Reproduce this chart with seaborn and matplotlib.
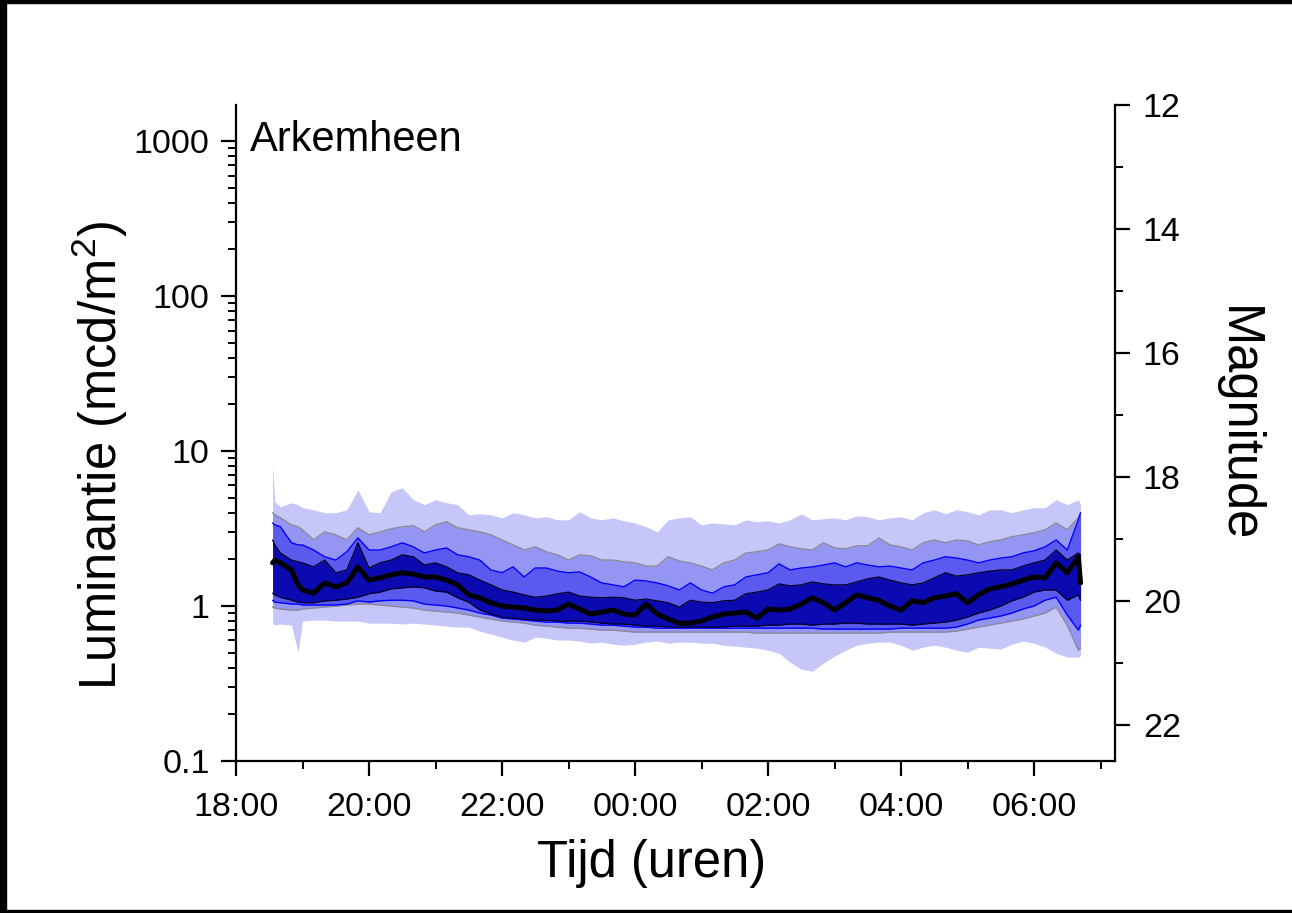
import numpy as np
import pandas as pd
import matplotlib
matplotlib.use("Agg")
import matplotlib.pyplot as plt
import seaborn as sns
from matplotlib.patches import Rectangle

# ---------------- data ----------------
times = ["18:33", "18:35", "18:40", "18:50", "18:56", "19:00", "19:10", "19:20", "19:30", "19:40",
         "19:50", "20:00", "20:10", "20:20", "20:30", "20:40", "20:50", "21:00", "21:10", "21:20",
         "21:30", "21:40", "21:50", "22:00", "22:10", "22:20", "22:30", "22:40", "22:50", "23:00",
         "23:10", "23:20", "23:30", "23:40", "23:50", "00:00", "00:10", "00:20", "00:30", "00:40",
         "00:50", "01:00", "01:10", "01:20", "01:30", "01:40", "01:50", "02:00", "02:10", "02:20",
         "02:30", "02:40", "02:50", "03:00", "03:10", "03:20", "03:30", "03:40", "03:50", "04:00",
         "04:10", "04:20", "04:30", "04:40", "04:50", "05:00", "05:10", "05:20", "05:30", "05:40",
         "05:50", "06:00", "06:10", "06:20", "06:30", "06:40", "06:42"]

outer_hi = [8.18, 4.71, 4.37, 4.64, 4.51, 4.31, 4.18, 4.00, 4.00, 4.18,
            5.63, 4.06, 4.00, 5.47, 5.80, 4.86, 4.51, 4.86, 4.64, 4.51,
            3.88, 3.94, 3.88, 3.71, 4.00, 3.88, 3.71, 3.77, 3.60, 3.60,
            4.06, 3.71, 3.60, 3.71, 3.55, 3.44, 3.25, 3.01, 3.60, 3.71,
            3.77, 3.34, 3.44, 3.39, 3.34, 3.60, 3.50, 3.55, 3.44, 3.60,
            3.94, 3.60, 3.66, 3.71, 3.60, 3.82, 3.77, 3.60, 3.71, 3.77,
            3.60, 4.00, 4.18, 3.94, 4.18, 4.06, 3.88, 4.18, 4.18, 4.00,
            4.18, 4.31, 4.31, 4.86, 4.51, 4.86, 4.51]

gray_hi = [4.00, 3.88, 3.71, 3.34, 3.25, 3.10, 2.67, 3.01, 2.88, 2.67,
           3.20, 2.88, 3.01, 3.15, 3.25, 3.30, 3.01, 3.34, 3.50, 3.20,
           3.10, 3.01, 2.88, 2.67, 2.48, 2.30, 2.41, 2.24, 2.14, 1.98,
           2.14, 2.11, 1.98, 1.98, 1.93, 1.90, 1.81, 1.81, 2.08, 1.95,
           1.90, 1.81, 1.71, 1.90, 1.98, 2.20, 2.24, 2.30, 2.52, 2.41,
           2.34, 2.30, 2.56, 2.37, 2.34, 2.45, 2.45, 2.75, 2.48, 2.41,
           2.30, 2.56, 2.67, 2.56, 2.67, 2.63, 2.48, 2.60, 2.67, 2.80,
           2.88, 2.97, 3.10, 3.44, 3.10, 3.71, 3.88]

blue_hi = [3.44, 3.34, 3.25, 2.56, 2.48, 2.48, 2.30, 2.08, 1.98, 2.24,
           2.75, 2.30, 2.30, 2.41, 2.56, 2.41, 2.20, 2.30, 2.37, 2.14,
           2.08, 1.98, 1.71, 1.64, 1.79, 1.54, 1.76, 1.76, 1.68, 1.64,
           1.66, 1.54, 1.41, 1.37, 1.33, 1.47, 1.45, 1.41, 1.35, 1.27,
           1.41, 1.27, 1.21, 1.33, 1.37, 1.54, 1.59, 1.64, 1.87, 1.71,
           1.76, 1.79, 1.84, 1.90, 1.79, 1.90, 1.84, 1.79, 1.81, 1.76,
           1.71, 1.90, 1.98, 2.08, 2.04, 1.98, 1.90, 1.98, 2.04, 2.08,
           2.20, 2.27, 2.41, 2.67, 2.30, 3.60, 4.00]

dark_hi = [2.67, 2.48, 2.20, 1.98, 1.93, 1.90, 1.79, 1.98, 1.64, 1.71,
           2.56, 1.76, 1.90, 1.98, 2.14, 2.08, 1.84, 1.90, 1.79, 1.64,
           1.59, 1.47, 1.37, 1.27, 1.23, 1.18, 1.14, 1.16, 1.20, 1.23,
           1.16, 1.14, 1.13, 1.14, 1.13, 1.09, 1.11, 1.08, 1.05, 0.985,
           1.09, 1.06, 1.05, 1.08, 1.09, 1.20, 1.23, 1.27, 1.39, 1.35,
           1.37, 1.43, 1.39, 1.37, 1.37, 1.43, 1.50, 1.54, 1.47, 1.41,
           1.37, 1.41, 1.52, 1.64, 1.56, 1.59, 1.64, 1.68, 1.71, 1.71,
           1.81, 1.90, 1.98, 2.30, 1.98, 2.20, 2.14]

median = [1.90, 1.98, 1.90, 1.71, 1.37, 1.27, 1.21, 1.41, 1.33, 1.41,
          1.79, 1.47, 1.52, 1.59, 1.64, 1.61, 1.54, 1.54, 1.47, 1.37,
          1.18, 1.13, 1.05, 1.00, 0.985, 0.971, 0.942, 0.928, 0.942, 1.03,
          0.956, 0.888, 0.915, 0.942, 0.888, 0.875, 1.03, 0.888, 0.824, 0.776,
          0.776, 0.800, 0.849, 0.888, 0.901, 0.915, 0.836, 0.956, 0.942, 0.956,
          1.03, 1.13, 1.05, 0.942, 1.05, 1.18, 1.13, 1.09, 1.00, 0.942,
          1.08, 1.05, 1.13, 1.16, 1.20, 1.05, 1.18, 1.29, 1.33, 1.39,
          1.47, 1.54, 1.52, 1.90, 1.64, 2.08, 1.41]

dark_lo = [1.21, 1.18, 1.14, 1.09, 1.06, 1.05, 1.05, 1.08, 1.09, 1.11,
           1.14, 1.20, 1.23, 1.29, 1.31, 1.33, 1.31, 1.25, 1.23, 1.13,
           1.06, 0.942, 0.888, 0.849, 0.836, 0.824, 0.812, 0.812, 0.800, 0.800,
           0.800, 0.788, 0.776, 0.765, 0.765, 0.753, 0.742, 0.742, 0.731, 0.731,
           0.731, 0.731, 0.731, 0.731, 0.742, 0.742, 0.742, 0.753, 0.753, 0.765,
           0.765, 0.753, 0.765, 0.765, 0.776, 0.776, 0.765, 0.765, 0.765, 0.765,
           0.753, 0.765, 0.776, 0.788, 0.812, 0.849, 0.901, 0.942, 1.00, 1.08,
           1.14, 1.23, 1.27, 1.27, 1.09, 1.18, 1.09]

blue_lo = [1.09, 1.06, 1.05, 1.03, 1.03, 1.015, 1.015, 1.015, 1.015, 1.03,
           1.08, 1.06, 1.08, 1.09, 1.09, 1.08, 1.03, 1.015, 1.00, 0.971,
           0.942, 0.901, 0.875, 0.836, 0.824, 0.812, 0.800, 0.788, 0.788, 0.776,
           0.776, 0.765, 0.753, 0.753, 0.742, 0.731, 0.731, 0.720, 0.720, 0.720,
           0.720, 0.720, 0.720, 0.720, 0.720, 0.720, 0.720, 0.720, 0.720, 0.720,
           0.720, 0.720, 0.710, 0.710, 0.710, 0.710, 0.710, 0.710, 0.710, 0.720,
           0.720, 0.720, 0.720, 0.720, 0.731, 0.765, 0.812, 0.836, 0.862, 0.901,
           0.956, 1.00, 1.09, 1.14, 0.875, 0.699, 0.753]

gray_lo = [0.985, 0.971, 0.956, 0.942, 0.942, 0.956, 0.971, 0.985, 1.00, 1.015,
           1.03, 1.03, 1.015, 1.00, 0.985, 0.971, 0.942, 0.928, 0.915, 0.901,
           0.875, 0.849, 0.824, 0.800, 0.788, 0.776, 0.753, 0.742, 0.731, 0.720,
           0.720, 0.710, 0.699, 0.699, 0.689, 0.679, 0.679, 0.679, 0.679, 0.679,
           0.679, 0.679, 0.679, 0.679, 0.679, 0.679, 0.669, 0.669, 0.669, 0.669,
           0.669, 0.669, 0.669, 0.669, 0.669, 0.669, 0.669, 0.669, 0.679, 0.679,
           0.679, 0.679, 0.679, 0.679, 0.689, 0.710, 0.731, 0.753, 0.776, 0.800,
           0.824, 0.862, 0.901, 0.985, 0.753, 0.519, 0.535]

outer_lo = [0.776, 0.753, 0.765, 0.753, 0.504, 0.800, 0.812, 0.812, 0.800, 0.800,
            0.800, 0.776, 0.776, 0.776, 0.765, 0.776, 0.765, 0.753, 0.742, 0.731,
            0.731, 0.689, 0.659, 0.630, 0.603, 0.585, 0.630, 0.621, 0.603, 0.603,
            0.594, 0.576, 0.585, 0.568, 0.559, 0.568, 0.585, 0.594, 0.576, 0.585,
            0.585, 0.576, 0.576, 0.559, 0.551, 0.543, 0.535, 0.519, 0.496, 0.434,
            0.391, 0.380, 0.428, 0.475, 0.519, 0.559, 0.576, 0.585, 0.585, 0.559,
            0.519, 0.543, 0.559, 0.543, 0.519, 0.504, 0.543, 0.535, 0.527, 0.568,
            0.594, 0.576, 0.543, 0.496, 0.468, 0.468, 0.482]

x_tick_labels = ["18:00", "20:00", "22:00", "00:00", "02:00", "04:00", "06:00"]
y_tick_values = [0.1, 1, 10, 100, 1000]
y_tick_labels = ["0.1", "1", "10", "100", "1000"]
mag_tick_values = [12, 14, 16, 18, 20, 22]
mag_minor_values = [13, 15, 17, 19, 21]
site_name = "Arkemheen"


def hours_after_18(s):
    h, m = map(int, s.split(":"))
    return (h - 18) % 24 + m / 60.0


def lum_to_mag(L):
    # L in mcd/m^2  ->  magnitude / arcsec^2
    return -2.5 * np.log10(np.asarray(L, dtype=float) / 1.08e8)


def mag_to_lum(m):
    return 1.08e8 * 10 ** (-0.4 * np.asarray(m, dtype=float))


df = pd.DataFrame({
    "t": [hours_after_18(s) for s in times],
    "outer_hi": outer_hi, "outer_lo": outer_lo,
    "gray_hi": gray_hi, "gray_lo": gray_lo,
    "blue_hi": blue_hi, "blue_lo": blue_lo,
    "dark_hi": dark_hi, "dark_lo": dark_lo,
    "median": median,
})

# ---------------- style ----------------
sns.set_theme(style="ticks")
plt.rcParams["font.family"] = ["Liberation Sans", "DejaVu Sans"]
plt.rcParams["mathtext.fontset"] = "custom"
plt.rcParams["mathtext.rm"] = "Liberation Sans"
plt.rcParams["mathtext.it"] = "Liberation Sans:italic"
plt.rcParams["axes.linewidth"] = 1.6

W, H = 1292, 913
fig = plt.figure(figsize=(W / 100, H / 100), dpi=100, facecolor="white")
left, right, bottom, top = 236, 1115, 761, 105
ax = fig.add_axes([left / W, 1 - bottom / H, (right - left) / W, (bottom - top) / H])

c_outer = "#c6c6f8"
c_gray = "#9595f3"
c_blue = "#5a5aef"
c_dark = "#0a0ab0"

ax.fill_between(df["t"], df["outer_lo"], df["outer_hi"], color=c_outer, lw=0)
ax.fill_between(df["t"], df["gray_lo"], df["gray_hi"], color=c_gray, lw=0)
ax.fill_between(df["t"], df["blue_lo"], df["blue_hi"], color=c_blue, lw=0)
ax.fill_between(df["t"], df["dark_lo"], df["dark_hi"], color=c_dark, lw=0)

for col, colr, lw in [("gray_hi", "#8a8a9a", 1.0), ("gray_lo", "#8a8a9a", 1.0),
                      ("blue_hi", "#0000ff", 1.0), ("blue_lo", "#0000ff", 1.0),
                      ("dark_hi", "#000022", 0.9), ("dark_lo", "#000022", 0.9)]:
    sns.lineplot(data=df, x="t", y=col, ax=ax, color=colr, lw=lw,
                 estimator=None, sort=False, legend=False)
sns.lineplot(data=df, x="t", y="median", ax=ax, color="black", lw=3.6,
             estimator=None, sort=False, legend=False)

# axes: log luminance
ax.set_yscale("log")
L_top = float(mag_to_lum(mag_tick_values[0]))
ax.set_ylim(y_tick_values[0], L_top)
ax.set_xlim(0, (right - left) / 66.5)
ax.set_yticks(y_tick_values)
ax.set_yticklabels(y_tick_labels)
ax.yaxis.set_minor_locator(matplotlib.ticker.LogLocator(base=10, subs=np.arange(2, 10)))
ax.yaxis.set_minor_formatter(matplotlib.ticker.NullFormatter())
ax.set_xticks(np.arange(0, 2 * len(x_tick_labels), 2))
ax.set_xticklabels(x_tick_labels)
ax.set_xticks(np.arange(1, 14, 2), minor=True)

ax.tick_params(axis="both", which="major", direction="out", length=11, width=1.6,
               labelsize=24.5, color="black", labelcolor="black")
ax.tick_params(axis="both", which="minor", direction="out", length=6, width=1.4,
               color="black")
ax.tick_params(axis="y", which="major", pad=8)
ax.tick_params(axis="x", which="major", pad=11)
ax.spines["top"].set_visible(False)
ax.spines["right"].set_visible(False)
for s in ("left", "bottom"):
    ax.spines[s].set_color("black")
    ax.spines[s].set_linewidth(1.6)
ax.grid(False)

ax.set_ylabel(r"Luminantie (mcd/m$^\mathregular{2}$)", fontsize=36.5, va="center", color="black")
ax.yaxis.set_label_coords(-0.155, 0.465)
ax.set_xlabel("Tijd (uren)", fontsize=36.5, va="center", color="black")
ax.xaxis.set_label_coords(0.473, -0.157)

ax.text(0.016, 0.977, site_name, transform=ax.transAxes, ha="left", va="top",
        fontsize=30, color="black")

# right axis: magnitude
ax2 = ax.twinx()
ax2.set_ylim(float(lum_to_mag(y_tick_values[0])), float(lum_to_mag(L_top)))
ax2.set_yticks(mag_tick_values)
ax2.set_yticklabels([str(v) for v in mag_tick_values])
ax2.set_yticks(mag_minor_values, minor=True)
ax2.tick_params(axis="y", which="major", direction="out", length=11, width=1.6,
                labelsize=24.5, pad=9, color="black", labelcolor="black")
ax2.tick_params(axis="y", which="minor", direction="out", length=6, width=1.4, color="black")
for s in ("left", "top", "bottom"):
    ax2.spines[s].set_visible(False)
ax2.spines["right"].set_color("black")
ax2.spines["right"].set_linewidth(1.6)
ax2.grid(False)
ax2.set_ylabel("Magnitude", fontsize=36.5, rotation=270, va="center", color="black")
ax2.yaxis.set_label_coords(1.139, 0.514)

# black frame of the picture (left, top, bottom)
fig.patches.append(Rectangle((0, 0), 6 / W, 1, transform=fig.transFigure, color="black", zorder=10))
fig.patches.append(Rectangle((0, 1 - 3 / H), 1, 3 / H, transform=fig.transFigure, color="black", zorder=10))
fig.patches.append(Rectangle((0, 0), 1, 3 / H, transform=fig.transFigure, color="black", zorder=10))

fig.savefig("out.png", dpi=100, facecolor="white")
